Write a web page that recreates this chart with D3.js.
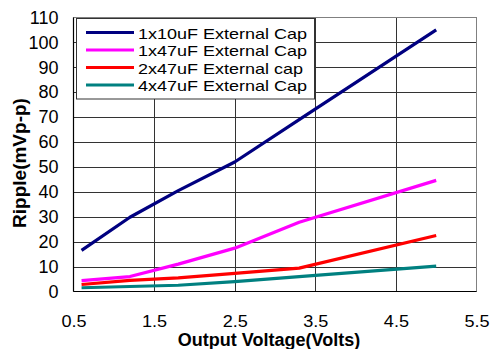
<!DOCTYPE html>
<html><head><meta charset="utf-8">
<script src="https://cdn.jsdelivr.net/npm/d3@7"></script>
<style>body{margin:0;background:#fff}svg{display:block}</style>
</head><body>
<svg id="c" width="490" height="349"></svg>
<script>
const voltages = [0.6, 1.2, 1.8, 2.5, 3.3, 5.0];
const seriesNames = ["1x10uF External Cap", "1x47uF External Cap", "2x47uF External cap", "4x47uF External Cap"];
const seriesColors = ["#000080", "#ff00ff", "#ff0000", "#008080"];
const cap1x10 = [16.5, 29.8, 40.5, 52, 69, 105];
const cap1x47 = [4.4, 6, 11, 17.4, 27.8, 44.6];
const cap2x47 = [2.8, 4.5, 5.5, 7.3, 9.4, 22.5];
const cap4x47 = [1.5, 2, 2.5, 4, 6, 10.2];
const xTicks = [0.5, 1.5, 2.5, 3.5, 4.5, 5.5];
const yTicks = [0, 10, 20, 30, 40, 50, 60, 70, 80, 90, 100, 110];
const allSeries = [cap1x10, cap1x47, cap2x47, cap4x47];

const svg = d3.select("#c");
const L = 73.5, R = 476.5, T = 17.5, B = 291.5;
const x = d3.scaleLinear().domain([0.5, 5.5]).range([L, R]);
const y = d3.scaleLinear().domain([0, 110]).range([B, T]);
const font = "Liberation Sans, Arial, sans-serif";

// grid
svg.append("g").selectAll("line").data(yTicks.slice(1, -1)).join("line")
  .attr("x1", L).attr("x2", R).attr("y1", d => Math.round(y(d)) + 0.5).attr("y2", d => Math.round(y(d)) + 0.5)
  .attr("stroke", "#333").attr("stroke-width", 1);
svg.append("g").selectAll("line").data(xTicks.slice(1, -1)).join("line")
  .attr("y1", T).attr("y2", B).attr("x1", d => Math.round(x(d)) + 0.5).attr("x2", d => Math.round(x(d)) + 0.5)
  .attr("stroke", "#333").attr("stroke-width", 1);
// frame
svg.append("rect").attr("x", L).attr("y", T).attr("width", R - L).attr("height", B - T)
  .attr("fill", "none").attr("stroke", "#808080").attr("stroke-width", 1);
svg.append("line").attr("x1", L).attr("x2", L).attr("y1", T).attr("y2", B).attr("stroke", "#000").attr("stroke-width", 1.2);
svg.append("line").attr("x1", L).attr("x2", R).attr("y1", B).attr("y2", B).attr("stroke", "#000").attr("stroke-width", 1.2);

// axes labels
const yAxis = d3.axisLeft(y).tickValues(yTicks).tickSize(0).tickPadding(15);
const gy = svg.append("g").attr("transform", `translate(${L},0)`).call(yAxis);
gy.select(".domain").remove();
gy.selectAll("text").attr("font-family", font).attr("font-size", 18).attr("fill", "#000");

const xAxis = d3.axisBottom(x).tickValues(xTicks).tickSize(0).tickPadding(0).tickFormat(d3.format(".1f"));
const gx = svg.append("g").attr("transform", `translate(0,${B})`).call(xAxis);
gx.select(".domain").remove();
gx.selectAll("text").attr("font-family", font).attr("font-size", 16).attr("fill", "#000")
  .attr("dy", null).attr("y", 35)
  .each(function () { const w = this.getComputedTextLength(); d3.select(this).attr("textLength", w * 1.13).attr("lengthAdjust", "spacingAndGlyphs"); });

// lines
const line = d3.line().x((d, i) => x(voltages[i])).y(d => y(d));
svg.append("g").selectAll("path").data(allSeries).join("path")
  .attr("d", d => line(d)).attr("fill", "none")
  .attr("stroke", (d, i) => seriesColors[i]).attr("stroke-width", 3.2)
  .attr("stroke-linejoin", "round");

// legend
const lg = svg.append("g");
lg.append("rect").attr("x", 76.5).attr("y", 18.5).attr("width", 238).attr("height", 80.5)
  .attr("fill", "#fff").attr("stroke", "#333").attr("stroke-width", 1);
const rows = lg.selectAll("g").data(seriesNames).join("g")
  .attr("transform", (d, i) => `translate(0,${32.5 + i * 17.5})`);
rows.append("line").attr("x1", 86).attr("x2", 134).attr("y1", 0).attr("y2", 0)
  .attr("stroke", (d, i) => seriesColors[i]).attr("stroke-width", 3.2);
rows.append("text").attr("x", 138).attr("y", 6).text(d => d)
  .attr("font-family", font).attr("font-size", 15).attr("fill", "#000")
  .each(function () { const w = this.getComputedTextLength(); d3.select(this).attr("textLength", w * 1.2).attr("lengthAdjust", "spacingAndGlyphs"); });

// titles
svg.append("text").attr("x", 269).attr("y", 346).attr("text-anchor", "middle")
  .attr("font-family", font).attr("font-size", 18).attr("font-weight", "bold").text("Output Voltage(Volts)");
svg.append("text").attr("transform", `translate(26,163) rotate(-90)`).attr("text-anchor", "middle")
  .attr("font-family", font).attr("font-size", 19).attr("font-weight", "bold").text("Ripple(mVp-p)");
</script>
</body></html>
